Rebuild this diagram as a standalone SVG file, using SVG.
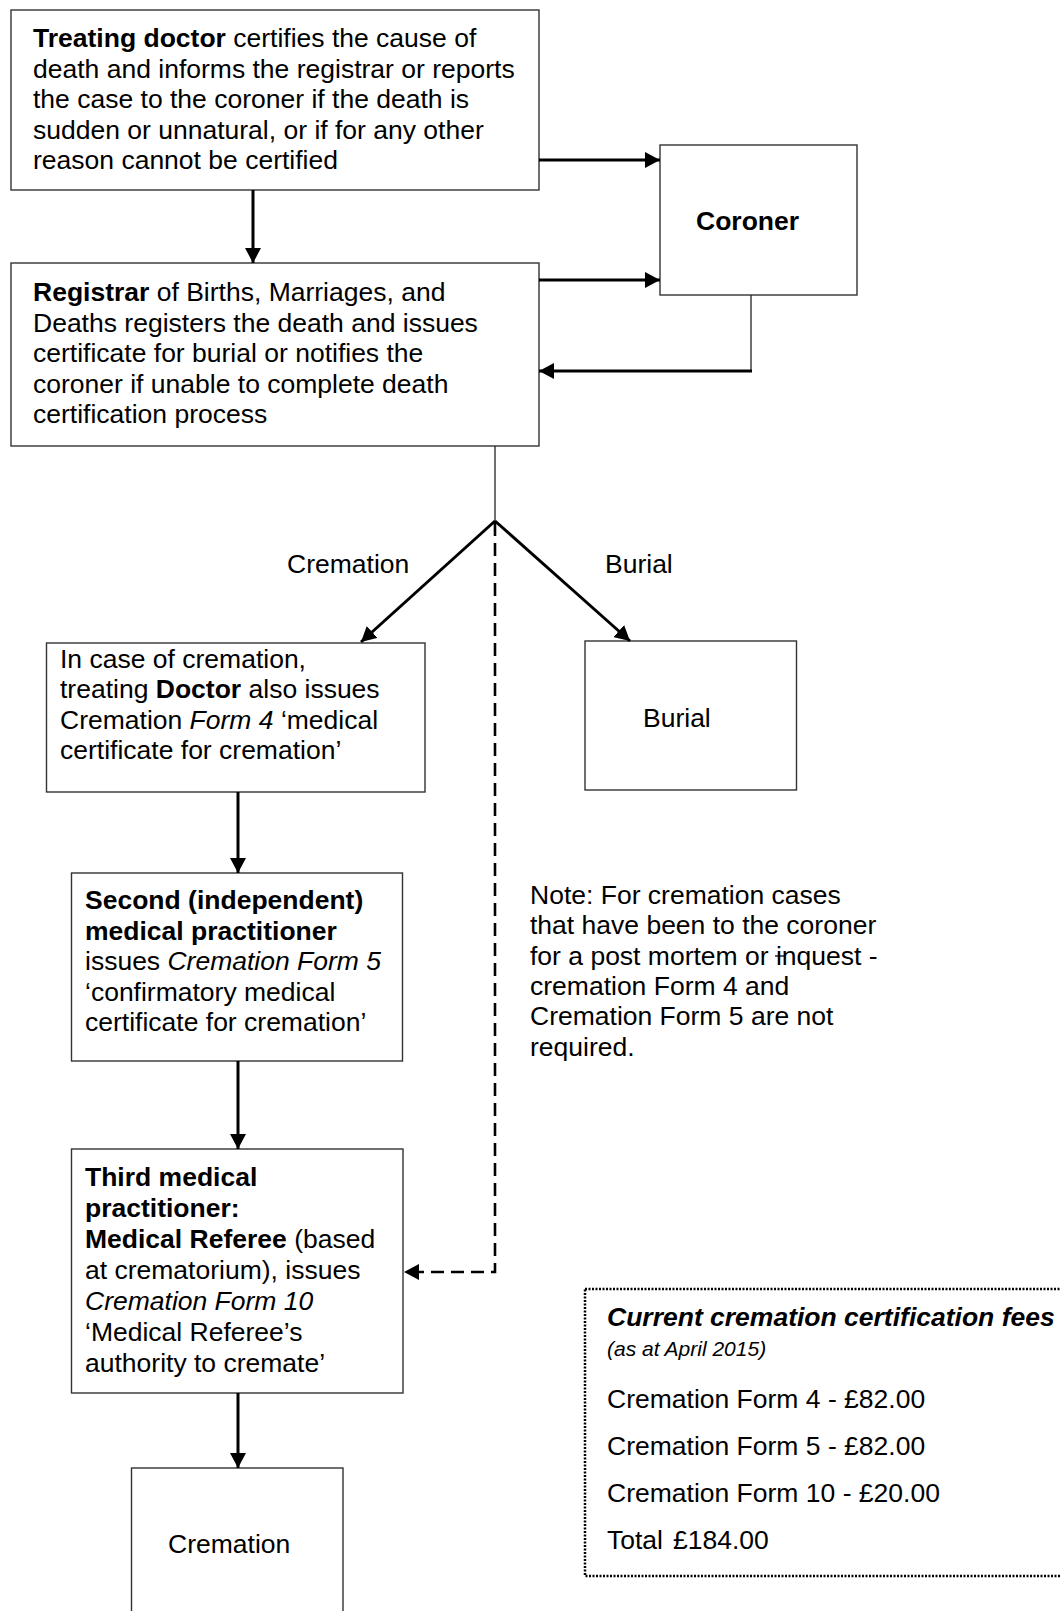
<svg xmlns="http://www.w3.org/2000/svg" width="1061" height="1611" viewBox="0 0 1061 1611">
<defs>
<style>
text{font-family:"Liberation Sans",Arial,sans-serif;font-size:26.5px;fill:#000}
.b{font-weight:bold}
.i{font-style:italic}
.box{fill:#fff;stroke:#333;stroke-width:1.4}
.thick{stroke:#000;stroke-width:3;fill:none}
.thin{stroke:#222;stroke-width:1.3;fill:none}
.dash{stroke:#000;stroke-width:2.6;fill:none;stroke-dasharray:13 7}
.dot{fill:none;stroke:#000;stroke-width:2.5;stroke-dasharray:2 1.5}
</style>
<marker id="ah" markerWidth="16" markerHeight="16" refX="15" refY="8" orient="auto" markerUnits="userSpaceOnUse">
<path d="M0,0 L15,8 L0,16 Z" fill="#000"/>
</marker>
</defs>
<rect width="1061" height="1611" fill="#fff"/>

<g id="treating-doctor">
<rect class="box" x="11" y="10" width="528" height="180"/>
<text x="33" y="47"><tspan class="b">Treating doctor</tspan> certifies the cause of</text>
<text x="33" y="77.6">death and informs the registrar or reports</text>
<text x="33" y="108.2">the case to the coroner if the death is</text>
<text x="33" y="138.8">sudden or unnatural, or if for any other</text>
<text x="33" y="169.4">reason cannot be certified</text>
</g>

<g id="coroner">
<rect class="box" x="660" y="145" width="197" height="150"/>
<text x="696" y="230" class="b">Coroner</text>
</g>

<g id="registrar">
<rect class="box" x="11" y="263" width="528" height="183"/>
<text x="33" y="301"><tspan class="b">Registrar</tspan> of Births, Marriages, and</text>
<text x="33" y="331.6">Deaths registers the death and issues</text>
<text x="33" y="362.2">certificate for burial or notifies the</text>
<text x="33" y="392.8">coroner if unable to complete death</text>
<text x="33" y="423.4">certification process</text>
</g>

<g id="form4">
<rect class="box" x="46.5" y="643" width="378.5" height="149"/>
<text x="60" y="668">In case of cremation,</text>
<text x="60" y="698.3">treating <tspan class="b">Doctor</tspan> also issues</text>
<text x="60" y="728.6">Cremation <tspan class="i">Form 4</tspan> ‘medical</text>
<text x="60" y="758.9">certificate for cremation’</text>
</g>

<g id="burial">
<rect class="box" x="585" y="641" width="211.5" height="149"/>
<text x="643" y="727">Burial</text>
</g>

<g id="form5">
<rect class="box" x="71.5" y="873" width="331" height="188"/>
<text x="85" y="909" class="b">Second (independent)</text>
<text x="85" y="939.6" class="b">medical practitioner</text>
<text x="85" y="970.2">issues <tspan class="i">Cremation Form 5</tspan></text>
<text x="85" y="1000.8">‘confirmatory medical</text>
<text x="85" y="1031.4">certificate for cremation’</text>
</g>

<g id="form10">
<rect class="box" x="71.5" y="1149" width="331.5" height="244"/>
<text x="85" y="1186" class="b">Third medical</text>
<text x="85" y="1217" class="b">practitioner:</text>
<text x="85" y="1248"><tspan class="b">Medical Referee</tspan> (based</text>
<text x="85" y="1279">at crematorium), issues</text>
<text x="85" y="1310" class="i">Cremation Form 10</text>
<text x="85" y="1341">‘Medical Referee’s</text>
<text x="85" y="1372">authority to cremate’</text>
</g>

<g id="cremation">
<rect class="box" x="131.5" y="1468" width="211.5" height="160"/>
<text x="168" y="1553">Cremation</text>
</g>

<g id="note">
<text x="530" y="904">Note: For cremation cases</text>
<text x="530" y="934.3">that have been to the coroner</text>
<text x="530" y="964.6">for a post mortem or inquest -</text>
<text x="530" y="994.9">cremation Form 4 and</text>
<text x="530" y="1025.2">Cremation Form 5 are not</text>
<text x="530" y="1055.5">required.</text>
<line x1="775" y1="956" x2="784" y2="956" stroke="#000" stroke-width="1.3"/>
</g>

<g id="fees">
<rect class="dot" x="585" y="1289" width="500" height="287"/>
<text x="607" y="1326" class="b i">Current cremation certification fees</text>
<text x="607" y="1356" class="i" style="font-size:21px">(as at April 2015)</text>
<text x="607" y="1408">Cremation Form 4 - £82.00</text>
<text x="607" y="1455">Cremation Form 5 - £82.00</text>
<text x="607" y="1502">Cremation Form 10 - £20.00</text>
<text x="607" y="1549">Total<tspan x="673">£184.00</tspan></text>
</g>

<g id="connectors">
<line class="thick" x1="539" y1="160" x2="660" y2="160" marker-end="url(#ah)"/>
<line class="thick" x1="253" y1="190" x2="253" y2="263" marker-end="url(#ah)"/>
<line class="thick" x1="539" y1="280" x2="660" y2="280" marker-end="url(#ah)"/>
<line class="thin" x1="751" y1="295" x2="751" y2="371"/>
<line class="thick" x1="752" y1="371" x2="539" y2="371" marker-end="url(#ah)"/>
<line class="thin" x1="495" y1="446" x2="495" y2="521"/>
<line class="thick" x1="495" y1="521" x2="361" y2="642" marker-end="url(#ah)"/>
<line class="thick" x1="495" y1="521" x2="630" y2="641" marker-end="url(#ah)"/>
<text x="287" y="573">Cremation</text>
<text x="605" y="573">Burial</text>
<line class="thick" x1="238" y1="792" x2="238" y2="873" marker-end="url(#ah)"/>
<line class="thick" x1="238" y1="1061" x2="238" y2="1149" marker-end="url(#ah)"/>
<line class="thick" x1="238" y1="1393" x2="238" y2="1468" marker-end="url(#ah)"/>
<path class="dash" d="M495,523 V1272 H404" marker-end="url(#ah)"/>
</g>
</svg>
